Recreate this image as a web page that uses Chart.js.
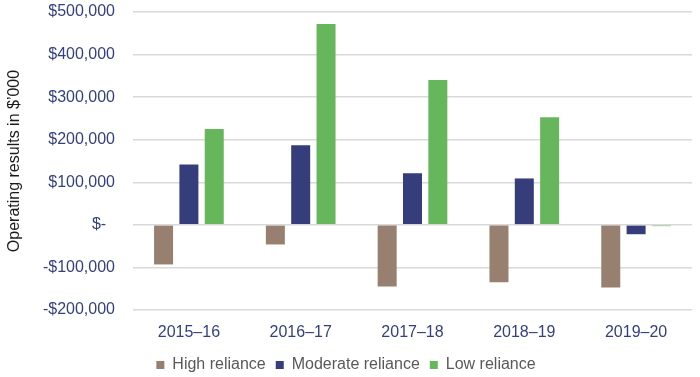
<!DOCTYPE html>
<html>
<head>
<meta charset="utf-8">
<script src="https://cdn.jsdelivr.net/npm/chart.js@4/dist/chart.umd.min.js"></script>
<style>
  html, body { margin: 0; padding: 0; background: #fff; }
  #wrap { width: 700px; height: 377px; }
</style>
</head>
<body>
<div id="wrap"><canvas id="opChart" width="700" height="377"></canvas></div>
<script>
// financial years
var years = ['2015\u201316', '2016\u201317', '2017\u201318', '2018\u201319', '2019\u201320'];

// operating results in $'000
var highReliance = [-93000, -46000, -145000, -135000, -147000];
var moderateReliance = [142000, 187000, 121000, 109000, -22000];
var lowReliance = [225000, 472000, 340000, 253000, -3000];

// y axis range
var yMin = -200000;
var yMax = 500000;
var yStep = 100000;

function money(v) {
  if (v === 0) return '$-  ';
  var s = '$' + Math.abs(v).toLocaleString('en-US');
  return v < 0 ? '-' + s : s;
}

var tickColour = '#333f7f';
var font = { family: 'Liberation Sans, Arial, sans-serif', size: 16 };

new Chart(document.getElementById('opChart'), {
  type: 'bar',
  data: {
    labels: years,
    datasets: [
      { label: 'High reliance', data: highReliance, backgroundColor: '#978070' },
      { label: 'Moderate reliance', data: moderateReliance, backgroundColor: '#353e7b' },
      { label: 'Low reliance', data: lowReliance, backgroundColor: '#66b75b' }
    ]
  },
  options: {
    responsive: false,
    animation: false,
    categoryPercentage: 0.68,
    barPercentage: 0.75,
    layout: { padding: { top: 12, right: 8, left: 0, bottom: -6 } },
    plugins: {
      tooltip: { enabled: false },
      legend: {
        position: 'bottom',
        labels: {
          boxWidth: 8,
          boxHeight: 8,
          padding: 10,
          color: '#595959',
          font: font
        }
      }
    },
    scales: {
      x: {
        afterFit: function (scale) { scale.height = 37; },
        grid: { display: false, drawTicks: false },
        border: { display: false },
        ticks: { color: tickColour, font: font, padding: 13, maxRotation: 0 }
      },
      y: {
        min: yMin,
        max: yMax,
        afterFit: function (scale) { scale.width = 133; },
        // invisible tick marks give the gap between labels and plot
        grid: { color: '#d9d9d9', lineWidth: 1.5, drawTicks: true, tickLength: 18, tickColor: 'rgba(0,0,0,0)' },
        border: { display: false },
        ticks: {
          stepSize: yStep,
          color: tickColour,
          font: font,
          padding: 0,
          callback: function (v) { return money(v); }
        },
        title: {
          display: true,
          text: 'Operating results in $\u2019000',
          color: '#1a1a1a',
          font: font,
          padding: { top: 5, bottom: 0 }
        }
      }
    }
  }
});
</script>
</body>
</html>
